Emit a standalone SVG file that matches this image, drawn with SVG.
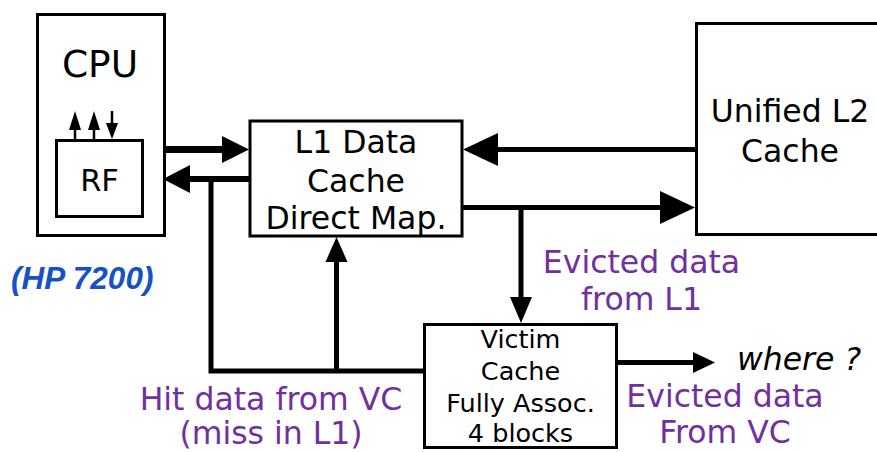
<svg xmlns="http://www.w3.org/2000/svg" width="877" height="452" viewBox="0 0 877 452">
  <style>
    .box { fill: #ffffff; stroke: #000000; stroke-width: 3; }
    .lbl { font-family: "DejaVu Sans", Verdana, sans-serif; fill: #000000; text-anchor: middle; }
    .note { font-family: "DejaVu Sans", Verdana, sans-serif; fill: #7030A0; text-anchor: middle; font-size: 31.5px; }
    .wire { fill: none; stroke: #000000; stroke-linejoin: miter; stroke-linecap: butt; }
    .head { fill: #000000; stroke: none; }
  </style>
  <rect width="877" height="452" fill="#ffffff"/>

  <!-- CPU with register file -->
  <g id="cpu">
    <rect class="box" x="37.5" y="14.5" width="127" height="221"/>
    <text class="lbl" x="100" y="77" font-size="37.5">CPU</text>
  </g>
  <g id="rf">
    <rect class="box" x="56.5" y="140.5" width="86" height="76"/>
    <text class="lbl" x="99.5" y="191" font-size="30.5">RF</text>
    <!-- register ports -->
    <line class="wire" x1="75" y1="139" x2="75" y2="128" stroke-width="2.5"/>
    <polygon class="head" points="69,130 75,111 81,130"/>
    <line class="wire" x1="94" y1="139" x2="94" y2="128" stroke-width="2.5"/>
    <polygon class="head" points="88,130 94,111 100,130"/>
    <line class="wire" x1="112" y1="111" x2="112" y2="124" stroke-width="2.5"/>
    <polygon class="head" points="106,123 112,139 118,123"/>
  </g>

  <g id="l1">
    <rect class="box" x="250" y="121" width="212" height="115"/>
    <text class="lbl" x="356" y="153" font-size="31.5">L1 Data</text>
    <text class="lbl" x="356" y="191.5" font-size="31.5">Cache</text>
    <text class="lbl" x="356" y="229" font-size="31.5">Direct Map.</text>
  </g>

  <g id="l2">
    <rect class="box" x="696.5" y="23.5" width="190" height="211"/>
    <text class="lbl" x="790" y="122" font-size="31.5">Unified L2</text>
    <text class="lbl" x="790" y="162" font-size="31.5">Cache</text>
  </g>

  <g id="victim">
    <rect class="box" x="424.5" y="324.5" width="192" height="123"/>
    <text class="lbl" x="520.5" y="348" font-size="25.5">Victim</text>
    <text class="lbl" x="520.5" y="380" font-size="25.5">Cache</text>
    <text class="lbl" x="520.5" y="411.5" font-size="25.5">Fully Assoc.</text>
    <text class="lbl" x="520.5" y="441.5" font-size="25.5">4 blocks</text>
  </g>

  <g id="connectors">
    <!-- CPU to L1 -->
    <line class="wire" x1="163" y1="149.5" x2="223" y2="149.5" stroke-width="7"/>
    <polygon class="head" points="222,136 249,149.5 222,163"/>
    <!-- L1 to CPU -->
    <line class="wire" x1="249" y1="179" x2="189" y2="179" stroke-width="6"/>
    <polygon class="head" points="190,165 163,179 190,193"/>
    <!-- L2 to L1 -->
    <line class="wire" x1="696" y1="149.5" x2="497" y2="149.5" stroke-width="5"/>
    <polygon class="head" points="498,133 463,149.5 498,166"/>
    <!-- L1 to L2 -->
    <line class="wire" x1="463" y1="207.5" x2="661" y2="207.5" stroke-width="5"/>
    <polygon class="head" points="660,191 695,207.5 660,224"/>
    <!-- evicted from L1 into victim cache -->
    <line class="wire" x1="521" y1="207.5" x2="521" y2="298" stroke-width="5"/>
    <polygon class="head" points="510,297 532,297 521,323"/>
    <!-- victim cache out -->
    <line class="wire" x1="618" y1="362.5" x2="694" y2="362.5" stroke-width="5"/>
    <polygon class="head" points="693,352 715,362.5 693,373"/>
    <!-- hit data from victim cache -->
    <polyline class="wire" points="424,371 211,371 211,179" stroke-width="5"/>
    <line class="wire" x1="336.5" y1="371" x2="336.5" y2="261" stroke-width="5"/>
    <polygon class="head" points="325.5,262 336.5,237 347.5,262"/>
  </g>

  <g id="labels">
    <text x="11" y="289" font-family="'Liberation Sans', Arial, sans-serif" font-size="31.5" font-weight="bold" font-style="italic" fill="#1652C6">(HP 7200)</text>
    <text class="note" x="641.5" y="273">Evicted data</text>
    <text class="note" x="641.5" y="310">from L1</text>
    <text class="note" x="725" y="407">Evicted data</text>
    <text class="note" x="725" y="443">From VC</text>
    <text class="note" x="271" y="410">Hit data from VC</text>
    <text class="note" x="271" y="444">(miss in L1)</text>
    <text x="737" y="370" font-family="'DejaVu Sans', Verdana, sans-serif" font-size="31.5" font-style="italic" fill="#000000">where ?</text>
  </g>
</svg>
